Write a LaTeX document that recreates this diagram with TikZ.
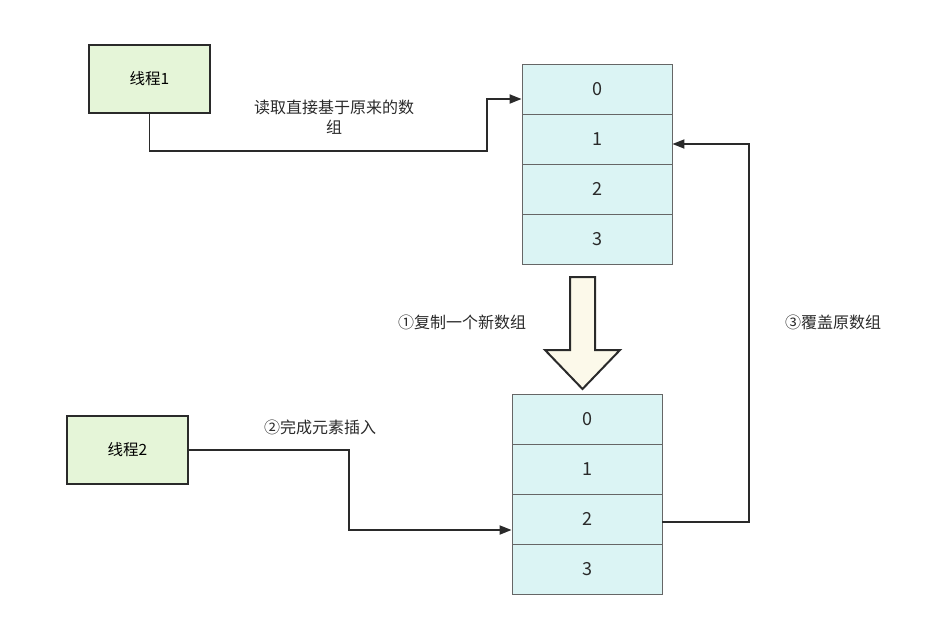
\documentclass[tikz,border=0pt]{standalone}
\usepackage{fontspec}
\setmainfont{Noto Sans CJK SC}
\usetikzlibrary{arrows.meta}
\definecolor{threadfill}{HTML}{E5F5D8}
\definecolor{cellfill}{HTML}{DBF4F4}
\definecolor{copyfill}{HTML}{FCF9EA}
\definecolor{ink}{HTML}{2A2A2A}
\tikzset{
  thread/.style={draw=ink,line width=2pt,fill=threadfill,minimum width=121pt,minimum height=68pt,inner sep=0pt,font=\fontsize{15.5}{18}\selectfont},
  cell/.style={draw=black!60,line width=0.8pt,fill=cellfill,minimum width=150pt,minimum height=50pt,inner sep=0pt,font=\fontsize{18}{21}\selectfont,text=ink},
  link/.style={draw=ink,line width=1.8pt,-{Triangle[length=12pt,width=9pt]}},
  note/.style={font=\fontsize{16}{20}\selectfont,text=ink,align=center,inner sep=0pt},
}
\begin{document}
\begin{tikzpicture}[x=1pt,y=-1pt,line join=miter]
        \useasboundingbox (0,0) rectangle (929,640);
        \node[thread] (t1) at (149.5,79) {线程1};
        \node[thread] (t2) at (127.5,450) {线程2};
        \foreach \i in {0,...,3}
          \node[cell] (a\i) at (597,{89+50*\i}) {\i};
        \foreach \i in {0,...,3}
          \node[cell] (b\i) at (587,{419+50*\i}) {\i};
        % copy arrow
        \draw[draw=ink,line width=2pt,fill=copyfill] (570,277) -- (595,277) -- (595,350) -- (620,350)
          -- (582.5,389) -- (545,350) -- (570,350) -- cycle;
        \coordinate (r0) at (487,151);
        \coordinate (r2) at (349,450);
        \coordinate (r3) at (749,522);
        \draw[link] (t1.south) |- (r0) |- ([yshift=-10pt]a0.west);
        \draw[link] (t2.east) -- (r2) |- ([yshift=-11pt]b2.west);
        \draw[link] ([yshift=-3pt]b2.east) -- (r3) |- ([yshift=-5pt]a1.east);
        \node[note] (l0) at (334,117) {读取直接基于原来的数\\组};
        \node[note] (l1) at (462,322) {①复制一个新数组};
        \node[note] (l2) at (320,427) {②完成元素插入};
        \node[note] (l3) at (833,322) {③覆盖原数组};
      \end{tikzpicture}
\end{document}
